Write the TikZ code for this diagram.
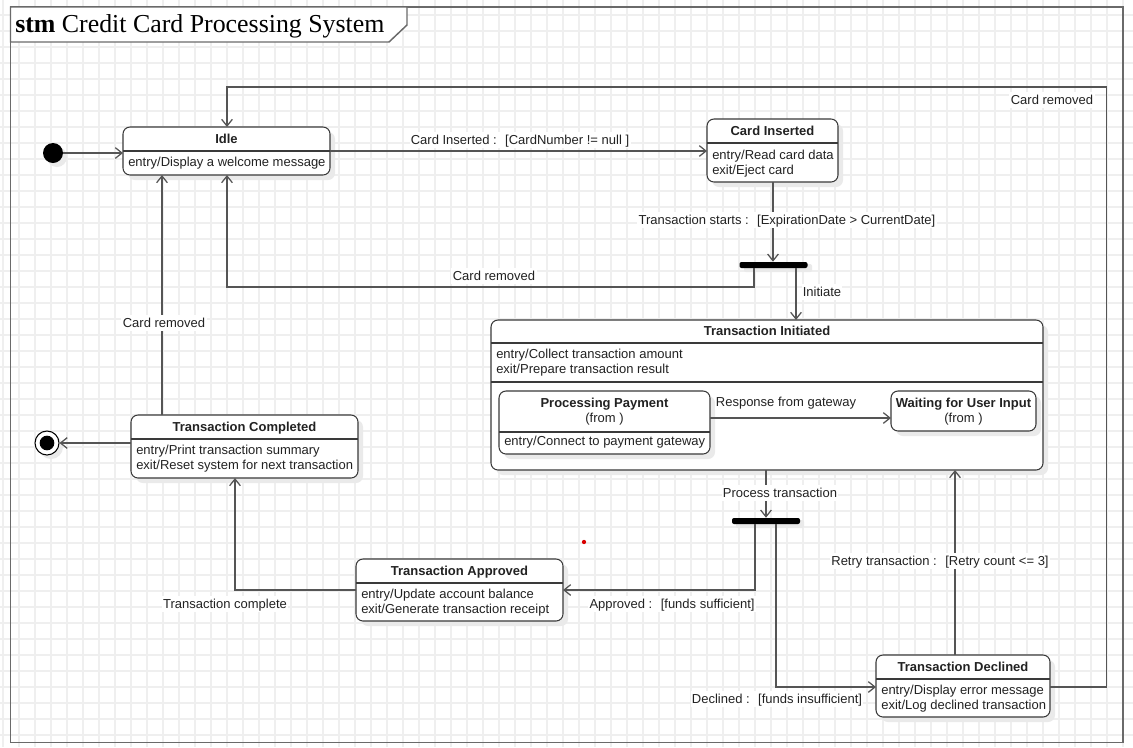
\documentclass[tikz,border=0pt]{standalone}
\usepackage{fontspec}
\setmainfont{Liberation Sans}
\newfontfamily\titlefont{Liberation Serif}
\usetikzlibrary{arrows.meta,fit}
\definecolor{gridc}{HTML}{EFEFEF}
\definecolor{framec}{HTML}{6A6A6A}
\definecolor{edgec}{HTML}{3A3A3A}
\definecolor{wirec}{HTML}{555555}
\definecolor{shadowc}{HTML}{EAEAEA}
\definecolor{textc}{HTML}{222222}
\newcommand\umlstate[5]{%
  \fill[shadowc, rounded corners=5.25pt] (#2+5,#3+5) rectangle (#4+5,#5+5);
  \node[statebox, fit={(#2,#3) (#4,#5)}] (#1) {};}
\begin{document}
\begin{tikzpicture}[x=0.75pt,y=-0.75pt,
  font=\fontsize{9.75}{12}\selectfont,
  statebox/.style={draw=edgec, line width=0.8pt, rounded corners=5.25pt, fill=white, inner sep=0pt, outer sep=0pt},
  sepline/.style={draw=edgec, line width=0.8pt},
  wire/.style={draw=wirec, line width=0.95pt, -{Straight Barb[length=5pt,width=8pt]}},
  ttl/.style={font=\fontsize{9.75}{12}\selectfont\bfseries, text=textc, inner sep=0pt, text height=8pt, text depth=1.8pt},
  body/.style={anchor=west, text=textc, inner sep=0pt, text height=8pt, text depth=1.8pt},
  lbl/.style={fill=white, text=textc, inner sep=1pt, text height=8pt, text depth=1.8pt},
  bar/.style={fill=black, rounded corners=1.5pt, minimum width=51pt, minimum height=4.5pt, inner sep=0pt}
]
\useasboundingbox (0,0) rectangle (1133,747);
\fill[white] (0,0) rectangle (1133,747);
% grid
\foreach \x in {3,19,...,1133} \draw[gridc, line width=0.9pt] (\x,0) -- (\x,747);
\foreach \y in {15,31,...,747} \draw[gridc, line width=0.9pt] (0,\y) -- (1133,\y);
% frame
\draw[framec, line width=1.1pt] (10.5,7) rectangle (1123,742.5);
\draw[framec, fill=white, line width=1.1pt] (10.5,7) -- (407,7) -- (407,25) -- (389,42) -- (10.5,42) -- cycle;
\node[anchor=base west, inner sep=0pt] (title) at (15,32) {\titlefont\fontsize{19.4}{22}\selectfont\textbf{stm} Credit Card Processing System};

% initial and final states
\fill[shadowc] (57,157) circle (7.5pt);
\node[circle, fill=black, minimum size=15pt, inner sep=0pt] (init) at (53,153) {};
\fill[shadowc] (51,447) circle (9pt);
\node[circle, draw=black, line width=0.8pt, fill=white, minimum size=18pt, inner sep=0pt] (final) at (47,443) {};
\node[circle, fill=black, minimum size=11pt, inner sep=0pt] (finaldot) at (final.center) {};

% Idle
\umlstate{idle}{123}{127}{330}{175}
\draw[sepline] (idle.west |- 0,151) -- (idle.east |- 0,151);
\node[ttl] (idle-t) at (226.5,139) {Idle};
\node[body] (idle-e) at (128,162) {entry/Display a welcome message};

% Card Inserted
\umlstate{cardins}{707}{119}{838}{182}
\draw[sepline] (cardins.west |- 0,143) -- (cardins.east |- 0,143);
\node[ttl] (cardins-t) at (772.5,131) {Card Inserted};
\node[body] (cardins-e) at (712,155) {entry/Read card data};
\node[body] (cardins-x) at (712,170) {exit/Eject card};

% Transaction Initiated
\umlstate{ti}{491}{320}{1043}{470}
\draw[sepline] (ti.west |- 0,343) -- (ti.east |- 0,343);
\draw[sepline] (ti.west |- 0,382) -- (ti.east |- 0,382);
\node[ttl] (ti-t) at (767,331) {Transaction Initiated};
\node[body] (ti-e) at (496,354) {entry/Collect transaction amount};
\node[body] (ti-x) at (496,369) {exit/Prepare transaction result};

% Processing Payment
\umlstate{pp}{499}{391}{710}{454}
\draw[sepline] (pp.west |- 0,432) -- (pp.east |- 0,432);
\node[ttl] (pp-t) at (604.5,403) {Processing Payment};
\node[body, anchor=center] (pp-f) at (604.5,418) {(from )};
\node[body] (pp-e) at (504,441) {entry/Connect to payment gateway};

% Waiting for User Input
\umlstate{wait}{891}{391}{1036}{431}
\node[ttl] (wait-t) at (963.5,403) {Waiting for User Input};
\node[body, anchor=center] (wait-f) at (963.5,418) {(from )};

% Transaction Completed
\umlstate{comp}{131}{415}{358}{478}
\draw[sepline] (comp.west |- 0,439) -- (comp.east |- 0,439);
\node[ttl] (comp-t) at (244.5,427) {Transaction Completed};
\node[body] (comp-e) at (136,450) {entry/Print transaction summary};
\node[body] (comp-x) at (136,465) {exit/Reset system for next transaction};

% Transaction Approved
\umlstate{appr}{356}{559}{563}{621}
\draw[sepline] (appr.west |- 0,583) -- (appr.east |- 0,583);
\node[ttl] (appr-t) at (459.5,571) {Transaction Approved};
\node[body] (appr-e) at (361,594) {entry/Update account balance};
\node[body] (appr-x) at (361,609) {exit/Generate transaction receipt};

% Transaction Declined
\umlstate{decl}{876}{655}{1050}{717}
\draw[sepline] (decl.west |- 0,679) -- (decl.east |- 0,679);
\node[ttl] (decl-t) at (963,667) {Transaction Declined};
\node[body] (decl-e) at (881,690) {entry/Display error message};
\node[body] (decl-x) at (881,705) {exit/Log declined transaction};

% fork bars
\fill[shadowc, rounded corners=1.5pt] (744,264) rectangle (812,272);
\node[bar] (fork1) at (773.5,265) {};
\fill[shadowc, rounded corners=1.5pt] (736,520) rectangle (804,528);
\node[bar] (fork2) at (766,521) {};

% connectors
\draw[wire] (init) -- (init -| idle.west);
\draw[wire] (idle.east |- 0,151) -- (cardins.west |- 0,151);
\draw[wire] (cardins.south -| 773,0) -- (fork1.north -| 773,0);
\draw[wire] (fork1.south -| 754,0) -- (754,287) -| (idle.south -| 227,0);
\draw[wire] (fork1.south -| 796,0) -- (ti.north -| 796,0);
\draw[wire] (pp.east |- 0,418) -- (wait.west |- 0,418);
\draw[wire] (ti.south -| 766,0) -- (fork2.north -| 766,0);
\draw[wire] (fork2.south -| 755,0) -- (755,590) -- (appr.east |- 0,590);
\draw[wire] (fork2.south -| 776,0) -- (776,687) -- (decl.west |- 0,687);
\draw[wire] (decl.north -| 955,0) -- (ti.south -| 955,0);
\draw[wire] (decl.east |- 0,687) -- (1106.5,687) -- (1106.5,87) -- (227,87) -- (idle.north -| 227,0);
\draw[wire] (appr.west |- 0,590) -- (235,590) -- (comp.south -| 235,0);
\draw[wire] (comp.north -| 162,0) -- (idle.south -| 162,0);
\draw[wire] (comp.west |- 0,443) -- (final.east |- 0,443);

% labels
\node[lbl] (l1) at (520,140) {Card Inserted :~ [CardNumber != null ]};
\node[lbl] (l2) at (787,220) {Transaction starts :~ [ExpirationDate > CurrentDate]};
\node[lbl] (l3) at (494,276) {Card removed};
\node[lbl] (l4) at (822,292) {Initiate};
\node[lbl] (l5) at (1052,100) {Card removed};
\node[lbl] (l6) at (164,323) {Card removed};
\node[lbl] (l7) at (786,402) {Response from gateway};
\node[lbl] (l8) at (780,493) {Process transaction};
\node[lbl] (l9) at (672,604) {Approved :~ [funds sufficient]};
\node[lbl] (l10) at (777,699) {Declined :~ [funds insufficient]};
\node[lbl] (l11) at (940,561) {Retry transaction :~ [Retry count <= 3]};
\node[lbl] (l12) at (225,604) {Transaction complete};

% red dot
\fill[red!85!black] (584,542) circle (1.6pt);
\end{tikzpicture}
\end{document}
